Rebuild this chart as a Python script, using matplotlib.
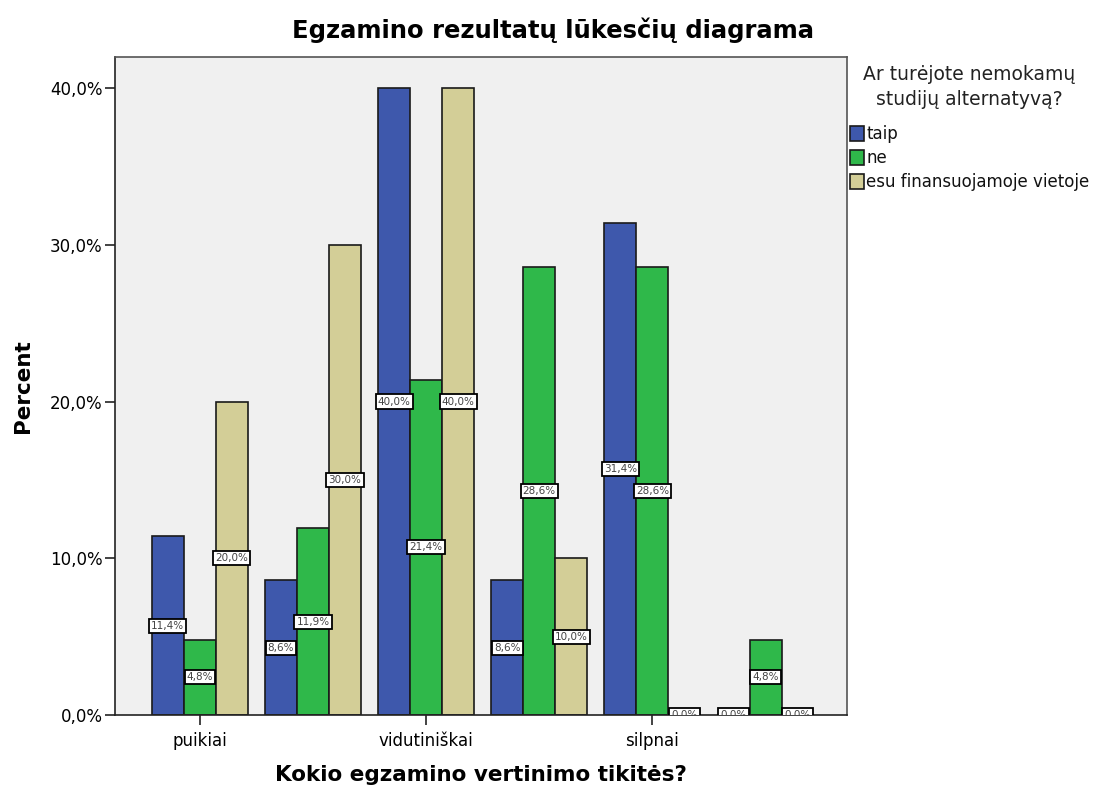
import matplotlib
matplotlib.use("Agg")
import matplotlib.pyplot as plt
import numpy as np

plt.rcParams['font.family'] = ['DejaVu Sans']

# Data
group_labels = ["puikiai", None, "vidutiniškai", None, "silpnai", None]
series_names = ["taip", "ne", "esu finansuojamoje vietoje"]
taip = [11.4, 8.6, 40.0, 8.6, 31.4, 0.0]
ne = [4.8, 11.9, 21.4, 28.6, 28.6, 4.8]
esu = [20.0, 30.0, 40.0, 10.0, 0.0, 0.0]
yticks = [0, 10, 20, 30, 40]

colors = ["#3e58ac", "#2fb84a", "#d3ce97"]

fig = plt.figure(figsize=(11.17, 7.89), dpi=100)
ax = fig.add_axes([115/1117, 1 - 715/789, (847-115)/1117, (715-57)/789])
ax.set_facecolor("#f0f0f0")

x = np.arange(len(group_labels))
w = 0.283
for i, (vals, col, name) in enumerate(zip([taip, ne, esu], colors, series_names)):
    pos = x + (i - 1) * w
    ax.bar(pos, vals, width=w, color=col, edgecolor="#1a1a1a", linewidth=1.2, label=name, zorder=2)
    for xp, v in zip(pos, vals):
        lbl = f"{v:.1f}%".replace(".", ",")
        ax.text(xp, v / 2, lbl, ha="center", va="center", fontsize=7.5, color="#444444",
                zorder=4, clip_on=True,
                bbox=dict(boxstyle="square,pad=0.2", fc="white", ec="black", lw=1.3))

ax.set_xlim(-0.75, 5.72)
ax.set_ylim(0, 41.98)
ax.set_yticks(yticks)
ax.set_yticklabels([f"{t:.1f}%".replace(".", ",") for t in yticks], fontsize=12)
tick_pos = [xi for xi, l in zip(x, group_labels) if l]
ax.set_xticks(tick_pos)
ax.set_xticklabels([l for l in group_labels if l], fontsize=12)
ax.tick_params(axis="both", direction="out", length=7, width=1.2, color="#222222")
ax.tick_params(axis="x", pad=5)
ax.tick_params(axis="y", pad=2)
for s in ax.spines.values():
    s.set_color("#555555")
    s.set_linewidth(1.2)
ax.spines["left"].set_color("#222222")
ax.spines["bottom"].set_color("#222222")

ax.set_ylabel("Percent", fontsize=15.5, fontweight="bold", labelpad=12)
ax.set_xlabel("Kokio egzamino vertinimo tikitės?", fontsize=15.5, fontweight="bold", labelpad=11)
fig.text(0.495, 1 - 30/789, "Egzamino rezultatų lūkesčių diagrama", ha="center", va="center",
         fontsize=17.5, fontweight="bold")

leg = ax.legend(loc="upper left", bbox_to_anchor=(1.0, 1.0 - 6/658), frameon=False,
                title="Ar turėjote nemokamų\nstudijų alternatyvą?", title_fontsize=13.5,
                fontsize=12, handlelength=0.85, handleheight=1.0, handletextpad=0.15,
                borderaxespad=0.0, labelspacing=0.35, borderpad=0.15)
leg.get_title().set_multialignment("center")
leg.get_title().set_color("#222222")
leg.get_title().set_linespacing(1.35)
leg._legend_box.align = "center"
leg._legend_box.sep = 12
for t in leg.get_texts():
    t.set_color("#111111")

fig.savefig("out.png", dpi=100)
